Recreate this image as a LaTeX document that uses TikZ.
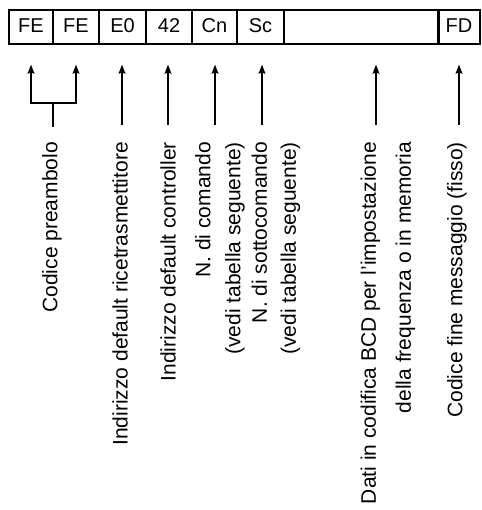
\documentclass[tikz,border=0pt]{standalone}
\usepackage{fontspec}
\setmainfont{Liberation Sans}
\usetikzlibrary{arrows.meta}
\begin{document}
\begin{tikzpicture}[x=1pt,y=1pt,
  cell/.style={draw,line width=2pt,minimum height=34pt,inner sep=0pt,
    font=\fontsize{20}{24}\selectfont,text height=1.1em,text depth=0pt},
  arr/.style={line width=2pt,-{Stealth[length=9pt,width=6.5pt,inset=1pt]},shorten >=19pt},
  stem/.style={line width=2pt},
  lbl/.style={rotate=90,anchor=east,inner sep=0pt,align=right}]
\useasboundingbox (0,0) rectangle (481,-510);
% message cells
\node[cell,minimum width=44pt]  (b1) at (31,-27.5)    {FE};
\node[cell,minimum width=46pt]  (b2) at (76,-27.5)    {FE};
\node[cell,minimum width=47pt]  (b3) at (122.5,-27.5) {E0};
\node[cell,minimum width=46pt]  (b4) at (169,-27.5)   {42};
\node[cell,minimum width=45pt]  (b5) at (214.5,-27.5) {Cn};
\node[cell,minimum width=47pt]  (b6) at (260.5,-27.5) {Sc};
\node[cell,minimum width=154pt] (b7) at (361,-27.5)   {};
\node[cell,minimum width=41pt]  (b8) at (459,-27.5)   {FD};
% labels
\node[lbl,font=\fontsize{21}{29}\selectfont] (l1) at (52,-142) {Codice preambolo};
\node[lbl,font=\fontsize{21}{29}\selectfont] (l2) at (120,-142) {Indirizzo default ricetrasmettitore};
\node[lbl,font=\fontsize{21}{29}\selectfont] (l3) at (168,-142) {Indirizzo default controller};
\node[lbl,font=\fontsize{21}{30}\selectfont] (l4) at (220,-142) {N. di comando\\(vedi tabella seguente)};
\node[lbl,font=\fontsize{21}{29}\selectfont] (l5) at (276,-142) {N. di sottocomando\\(vedi tabella seguente)};
\node[lbl,font=\fontsize{21}{35}\selectfont] (l6) at (388,-142) {Dati in codifica BCD per l'impostazione\\della frequenza o in memoria};
\node[lbl,font=\fontsize{21}{29}\selectfont] (l7) at (457,-142) {Codice fine messaggio (fisso)};
% arrow start points
\coordinate (s0) at (53,-127);
\coordinate (j)  at (53,-103);
\coordinate (s3) at (122,-125);
\coordinate (s4) at (168,-125);
\coordinate (s5) at (215,-125);
\coordinate (s6) at (262,-125);
\coordinate (s7) at (376,-125);
\coordinate (s8) at (459,-125);
% connectors
\draw[stem] (s0) -- (j);
\draw[arr,line join=miter] (j) -| (b1.south);
\draw[arr,line join=miter] (j) -| (b2.south);
\draw[arr] (s3) -- (s3 |- b3.south);
\draw[arr] (s4) -- (s4 |- b4.south);
\draw[arr] (s5) -- (s5 |- b5.south);
\draw[arr] (s6) -- (s6 |- b6.south);
\draw[arr] (s7) -- (s7 |- b7.south);
\draw[arr] (s8) -- (s8 |- b8.south);
\end{tikzpicture}
\end{document}
